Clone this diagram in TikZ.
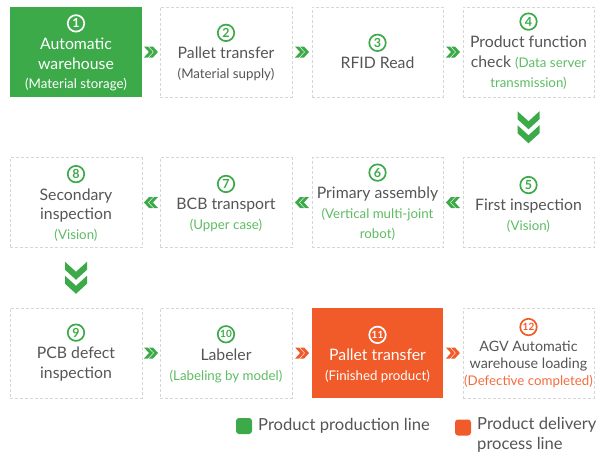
\documentclass[tikz,border=0pt]{standalone}
\usepackage{fontspec}
\setmainfont{Lato}
\usetikzlibrary{calc}
\definecolor{pgreen}{HTML}{3DAA4A}
\definecolor{sgreen}{HTML}{5DBB63}
\definecolor{porange}{HTML}{F15A29}
\definecolor{sorange}{HTML}{F36B3D}
\definecolor{tgray}{HTML}{555555}
\definecolor{bgray}{HTML}{D6D6D6}
\newcommand{\subt}{\fontsize{13.3}{18.5}\selectfont}
\begin{document}
\begin{tikzpicture}[x=1pt,y=-1pt,
  stepbox/.style={minimum width=132pt,minimum height=90pt,inner sep=0pt,draw=bgray,line width=0.8pt,dash pattern=on 3pt off 2pt},
  greenbox/.style={minimum width=132pt,minimum height=90pt,inner sep=0pt,fill=pgreen},
  orangebox/.style={minimum width=132pt,minimum height=90pt,inner sep=0pt,fill=porange},
  steptext/.style={align=center,text=tgray,font=\fontsize{15.8}{19.8}\selectfont,inner sep=0pt},
  numc/.style={circle,draw=#1,line width=1.7pt,minimum size=16.5pt,inner sep=0pt,text=#1,font=\fontsize{12.5}{12.5}\selectfont\bfseries,anchor=south,yshift=5pt},
  numcc/.style={numc=#1,font=\fontsize{10}{10}\selectfont\bfseries},
  legbox/.style={rounded corners=3pt,minimum size=16pt,inner sep=0pt},
  legtext/.style={text=tgray,font=\fontsize{16.6}{20.5}\selectfont,inner sep=0pt,anchor=west,align=left},
  rchev/.pic={
    \fill (-7,-5.5)--(-3,-5.5)--(2,0)--(-3,5.5)--(-7,5.5)--(-2,0)--cycle;
    \fill (-2,-5.5)--(2,-5.5)--(7,0)--(2,5.5)--(-2,5.5)--(3,0)--cycle;},
  dchev/.pic={
    \fill (-11,-16)--(0,-6)--(11,-16)--(11,-8)--(0,2)--(-11,-8)--cycle;
    \fill (-11,-2)--(0,8)--(11,-2)--(11,6)--(0,16)--(-11,6)--cycle;},
]
\useasboundingbox (0,0) rectangle (604,459);
% boxes
\node[greenbox] (b1) at (76,52) {};
\node[stepbox] (b2) at (226,52) {};
\node[stepbox,minimum width=131pt] (b3) at (377.5,52) {};
\node[stepbox,minimum width=131pt] (b4) at (528.5,52) {};
\node[stepbox,minimum width=131pt] (b5) at (528.5,202.5) {};
\node[stepbox,minimum width=131pt] (b6) at (377.5,202.5) {};
\node[stepbox] (b7) at (226,202.5) {};
\node[stepbox] (b8) at (76,202.5) {};
\node[stepbox] (b9) at (76,353) {};
\node[stepbox] (b10) at (226,353) {};
\node[orangebox,minimum width=131pt] (b11) at (377.5,353) {};
\node[stepbox,minimum width=131pt] (b12) at (528.5,353) {};
% texts
\node[steptext,text=white] (t1) at ($(b1.center)+(0,12.5)$) {Automatic\\warehouse\\{\subt(Material storage)}};
\node[steptext] (t2) at ($(b2.center)+(0,12)$) {Pallet transfer\\{\subt(Material supply)}};
\node[steptext] (t3) at ($(b3.center)+(0,11)$) {RFID Read};
\node[steptext] (t4) at ($(b4.center)+(0,10.5)$) {Product function\\check {\subt\color{sgreen}(Data server}\\{\subt\color{sgreen}transmission)}};
\node[steptext] (t5) at ($(b5.center)+(0,13.5)$) {First inspection\\{\subt\color{sgreen}(Vision)}};
\node[steptext] (t6) at ($(b6.center)+(0,11)$) {Primary assembly\\{\subt\color{sgreen}(Vertical multi-joint}\\{\subt\color{sgreen}robot)}};
\node[steptext] (t7) at ($(b7.center)+(0,12.5)$) {BCB transport\\{\subt\color{sgreen}(Upper case)}};
\node[steptext] (t8) at ($(b8.center)+(0,12.5)$) {Secondary\\inspection\\{\subt\color{sgreen}(Vision)}};
\node[steptext] (t9) at ($(b9.center)+(0,11)$) {PCB defect\\inspection};
\node[steptext] (t10) at ($(b10.center)+(0,12.5)$) {Labeler\\{\subt\color{sgreen}(Labeling by model)}};
\node[steptext,text=white] (t11) at ($(b11.center)+(0,13)$) {Pallet transfer\\{\subt(Finished product)}};
\node[steptext,font=\fontsize{14.3}{16.8}\selectfont] (t12) at ($(b12.center)+(0,11.5)$) {AGV Automatic\\warehouse loading\\{\subt\color{sorange}(Defective completed)}};
% numbers
\node[numc=white] (n1) at (t1.north) {1};
\node[numc=pgreen] (n2) at (t2.north) {2};
\node[numc=pgreen] (n3) at (t3.north) {3};
\node[numc=pgreen] (n4) at (t4.north) {4};
\node[numc=pgreen] (n5) at (t5.north) {5};
\node[numc=pgreen] (n6) at (t6.north) {6};
\node[numc=pgreen] (n7) at (t7.north) {7};
\node[numc=pgreen] (n8) at (t8.north) {8};
\node[numc=pgreen] (n9) at (t9.north) {9};
\node[numcc=pgreen] (n10) at (t10.north) {10};
\node[numcc=white] (n11) at (t11.north) {11};
\node[numcc=porange] (n12) at (t12.north) {12};
% chevrons
\pic[pgreen] at ($(b1.east)!0.5!(b2.west)$) {rchev};
\pic[pgreen] at ($(b2.east)!0.5!(b3.west)$) {rchev};
\pic[pgreen] at ($(b3.east)!0.5!(b4.west)$) {rchev};
\pic[pgreen] at ($(b4.south)!0.5!(b5.north)$) {dchev};
\pic[pgreen,rotate=180] at ($(b5.west)!0.5!(b6.east)$) {rchev};
\pic[pgreen,rotate=180] at ($(b6.west)!0.5!(b7.east)$) {rchev};
\pic[pgreen,rotate=180] at ($(b7.west)!0.5!(b8.east)$) {rchev};
\pic[pgreen] at ($(b8.south)!0.5!(b9.north)$) {dchev};
\pic[pgreen] at ($(b9.east)!0.5!(b10.west)$) {rchev};
\pic[porange] at ($(b10.east)!0.5!(b11.west)$) {rchev};
\pic[porange] at ($(b11.east)!0.5!(b12.west)$) {rchev};
% legend
\node[legbox,fill=pgreen] (lg) at (244,426) {};
\node[legtext] (lgt) at (258,426) {Product production line};
\node[legbox,fill=porange] (lo) at (463,427.5) {};
\node[legtext,anchor=north west] (lot) at (477,417) {Product delivery\\process line};
\end{tikzpicture}
\end{document}
